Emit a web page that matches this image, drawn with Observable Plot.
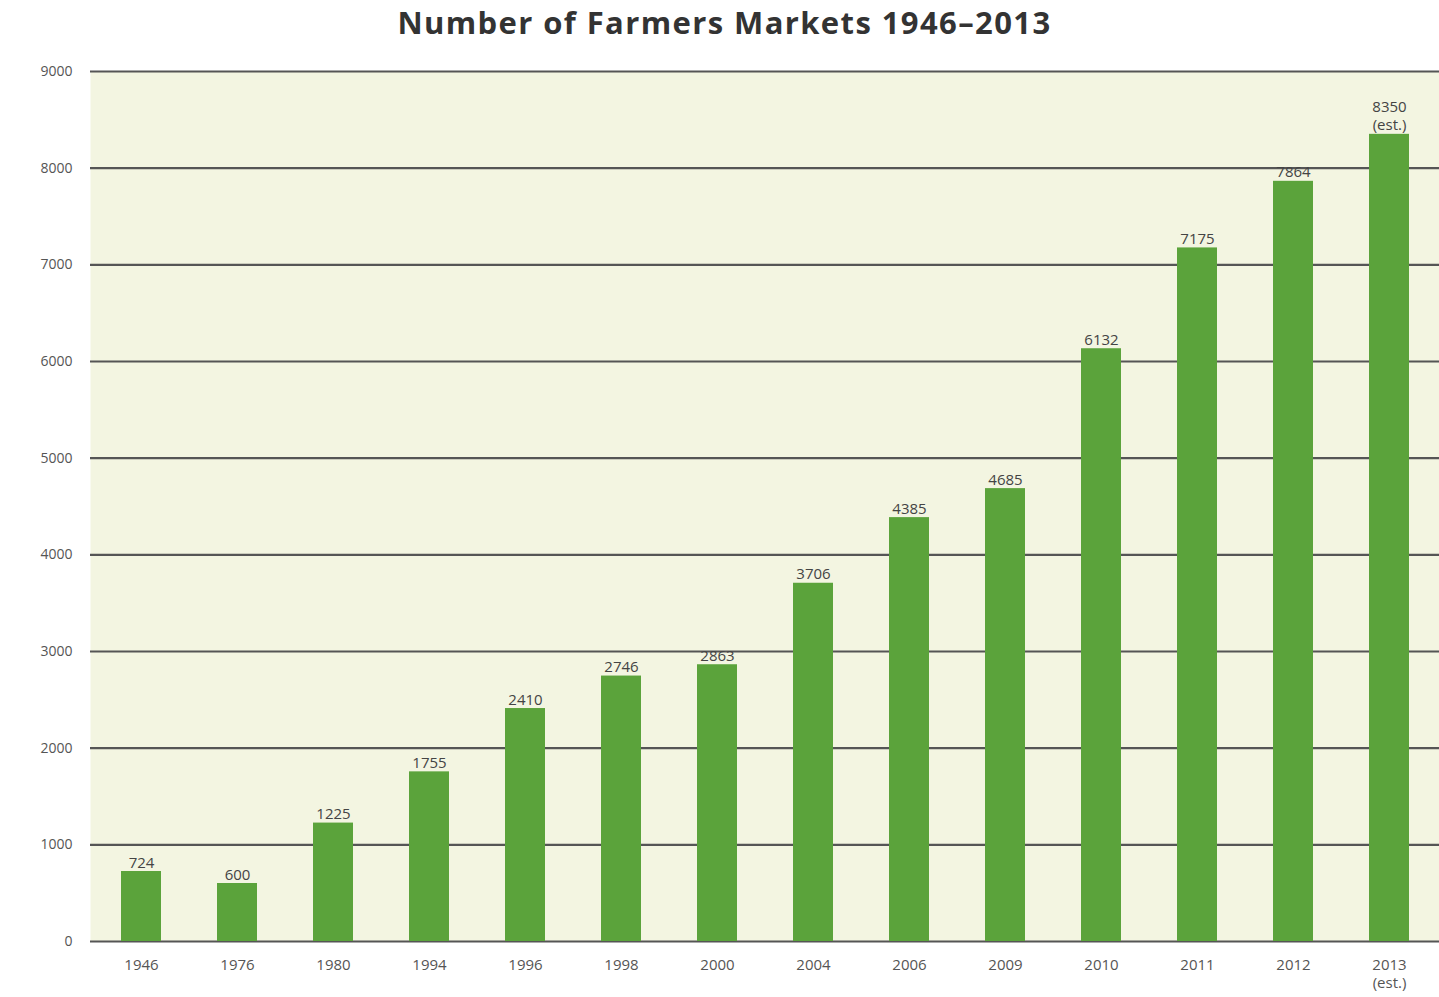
<!DOCTYPE html>
<html>
<head>
<meta charset="utf-8">
<script src="https://cdn.jsdelivr.net/npm/d3@7"></script>
<script src="https://cdn.jsdelivr.net/npm/@observablehq/plot@0.6"></script>
<style>
  html, body { margin: 0; padding: 0; background: #ffffff; }
  body { width: 1439px; height: 997px; overflow: hidden; font-family: "Open Sans", "DejaVu Sans", sans-serif; }
  #title { height: 45px; line-height: 44px; text-align: center; font-weight: 700; font-size: 31px; letter-spacing: 1.4px; color: #333333; padding-left: 10px; }
</style>
</head>
<body>
<div id="title">Number of Farmers Markets 1946–2013</div>
<div id="chart"></div>
<script>
const years = ["1946", "1976", "1980", "1994", "1996", "1998", "2000", "2004", "2006", "2009", "2010", "2011", "2012", "2013"];
const yearLabels = ["1946", "1976", "1980", "1994", "1996", "1998", "2000", "2004", "2006", "2009", "2010", "2011", "2012", "2013\n(est.)"];
const counts = [724, 600, 1225, 1755, 2410, 2746, 2863, 3706, 4385, 4685, 6132, 7175, 7864, 8350];
const valueLabels = ["724", "600", "1225", "1755", "2410", "2746", "2863", "3706", "4385", "4685", "6132", "7175", "7864", "8350\n(est.)"];
const yTicks = [0, 1000, 2000, 3000, 4000, 5000, 6000, 7000, 8000, 9000];

const data = years.map((y, i) => ({year: y, count: counts[i], label: valueLabels[i]}));
const labelOf = new Map(years.map((y, i) => [y, yearLabels[i]]));

const chart = Plot.plot({
  width: 1439,
  height: 952,
  marginTop: 26,
  marginBottom: 56,
  marginLeft: 90,
  marginRight: 0,
  style: {fontFamily: "'Open Sans', 'DejaVu Sans', sans-serif", background: "transparent"},
  x: {domain: years, paddingInner: 0.585, paddingOuter: 0.29, align: 0.5, label: null},
  y: {domain: [0, 9000], label: null},
  marks: [
    Plot.frame({fill: "#f3f5e1", stroke: null}),
    Plot.ruleY(yTicks, {stroke: "#555555", strokeWidth: 2.2}),
    Plot.barY(data, {x: "year", y: "count", fill: "#5ba33b"}),
    Plot.text(data, {x: "year", y: "count", text: "label", lineAnchor: "bottom", lineHeight: 1.2, dy: -4, fontSize: 15, fill: "#444444"}),
    Plot.axisY({ticks: yTicks, tickSize: 0, tickPadding: 18, fontSize: 14, color: "#555555", tickFormat: d => String(d), label: null}),
    Plot.axisX({tickSize: 0, tickPadding: 16, fontSize: 15, lineHeight: 1.2, color: "#555555", tickFormat: d => labelOf.get(d), label: null})
  ]
});
document.getElementById("chart").appendChild(chart);
</script>
</body>
</html>
